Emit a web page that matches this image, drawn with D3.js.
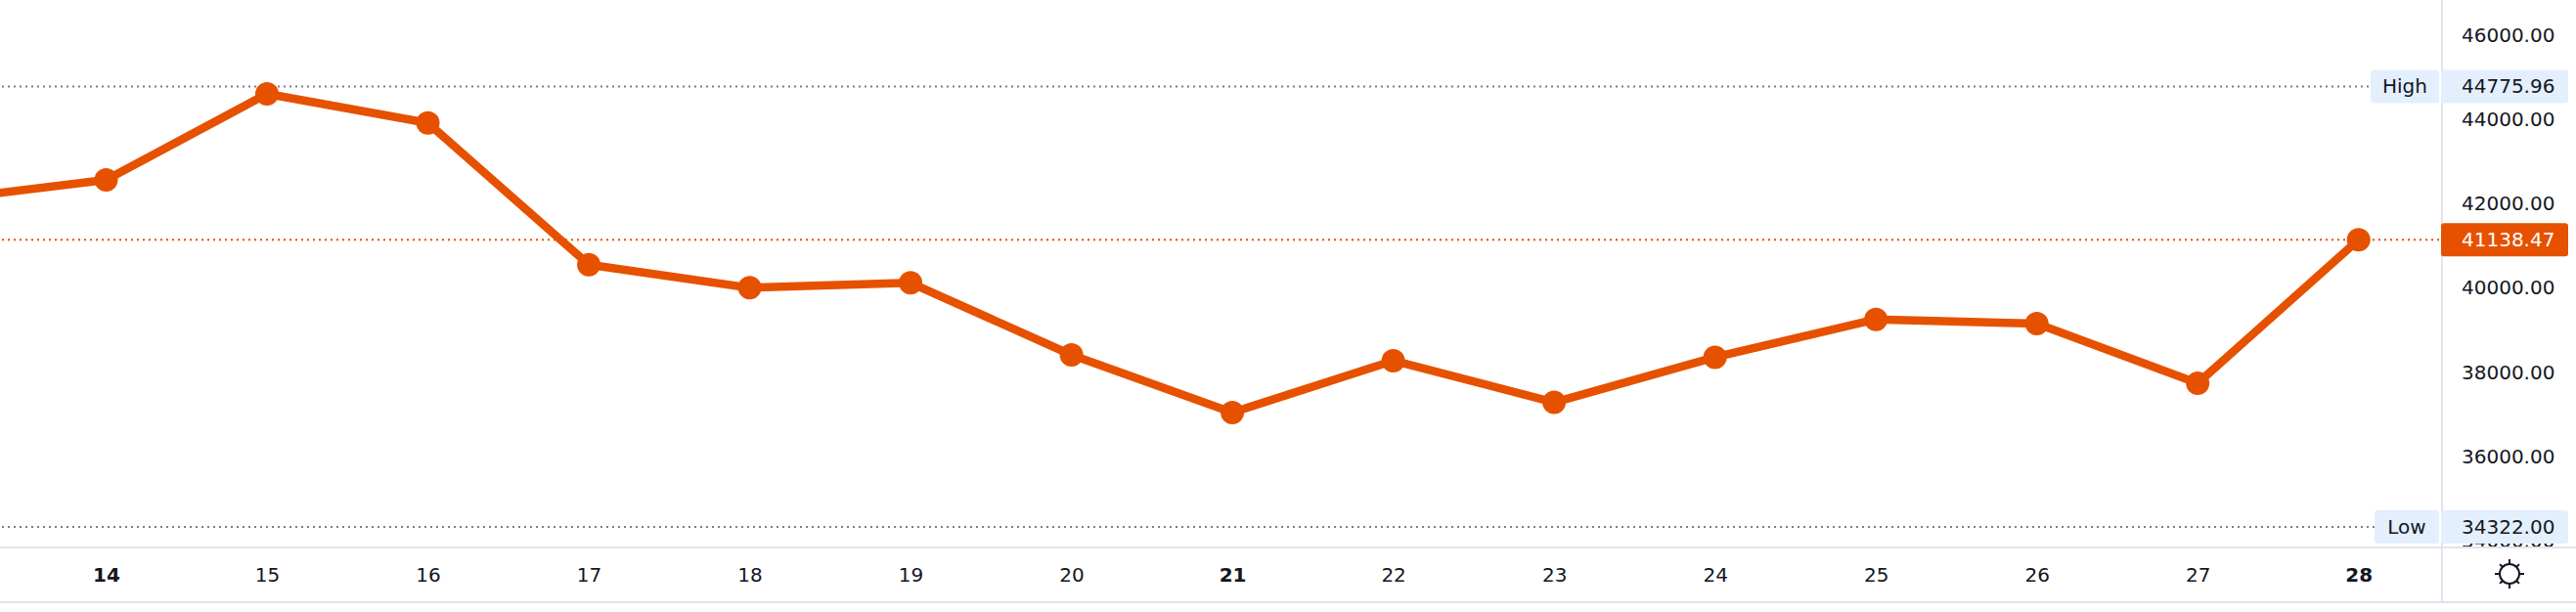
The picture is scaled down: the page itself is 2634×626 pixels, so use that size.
<!DOCTYPE html>
<html><head><meta charset="utf-8">
<script src="https://d3js.org/d3.v7.min.js"></script>
<style>html,body{margin:0;padding:0;background:#fff}svg{display:block}
text{font-family:"DejaVu Sans",sans-serif;fill:#131722;font-size:20px}</style></head><body>
<svg id="c" width="2634" height="626"></svg>
<script>
const days=[13,14,15,16,17,18,19,20,21,22,23,24,25,26,27,28];
const closes=[42095,42559,44601,43912,40548,40000,40116,38406,37037,38268,37279,38350,39248,39148,37733,41138.47];
const priceTicks=[46000,44000,42000,40000,38000,36000,34000];
const boldDays=[14,21,28];
const high=44775.96, low=34322.00, last=41138.47;
const W=2634,H=626,paneR=2497,axisY=561,bottomY=616;
const x=d3.scaleLinear().domain([14,28]).range([108.5,2411.7]);
const y=d3.scaleLinear().domain([46000,36000]).range([35.7,466.7]);
const orange="#e65100";
const svg=d3.select("#c");
svg.append("defs").append("clipPath").attr("id","priceClip").append("rect").attr("x",2497).attr("y",0).attr("width",137).attr("height",559);
const chart=svg.append("g").append("svg").attr("width",paneR).attr("height",axisY).attr("overflow","hidden");
const hline=(v,c)=>chart.append("line").attr("x1",2).attr("x2",paneR).attr("y1",y(v)).attr("y2",y(v)).attr("stroke",c).attr("stroke-width",2).attr("stroke-dasharray","2 4");
hline(high,"#7d7f85");hline(low,"#7d7f85");hline(last,orange);
const pts=days.map((d,i)=>[d,closes[i]]);
chart.append("path").datum(pts).attr("fill","none").attr("stroke",orange).attr("stroke-width",8.5).attr("stroke-linejoin","round")
 .attr("d",d3.line().x(d=>x(d[0])).y(d=>y(d[1])));
chart.selectAll("circle").data(pts).join("circle").attr("cx",d=>x(d[0])).attr("cy",d=>y(d[1])).attr("r",12).attr("fill",orange);
// price axis
const axisG=svg.append("g").attr("clip-path","url(#priceClip)").append("g").attr("transform","translate(2497,0)");
axisG.call(d3.axisRight(y).tickValues(priceTicks).tickSize(0).tickPadding(20).tickFormat(d3.format(".2f")));
axisG.select(".domain").remove();
axisG.selectAll("text").attr("dy","0.33em").style("font-size","20px").style("font-family","'DejaVu Sans',sans-serif");
// frame lines
svg.append("line").attr("x1",0).attr("x2",W).attr("y1",axisY-1).attr("y2",axisY-1).attr("stroke","#e0e3eb").attr("stroke-width",2);
svg.append("line").attr("x1",0).attr("x2",W).attr("y1",bottomY).attr("y2",bottomY).attr("stroke","#e0e3eb").attr("stroke-width",2);
svg.append("line").attr("x1",2497).attr("x2",2497).attr("y1",0).attr("y2",bottomY).attr("stroke","#e0e3eb").attr("stroke-width",2);
function tag(xl,w,v,txt,bg,fg,anchorX,anc){
 svg.append("rect").attr("x",xl).attr("y",y(v)-17).attr("width",w).attr("height",34).attr("rx",3).attr("fill",bg);
 svg.append("text").attr("x",anchorX).attr("y",y(v)).attr("dy","0.33em").attr("text-anchor",anc).style("fill",fg).text(txt);
}
const fmt=d3.format(".2f");
tag(2424,70,high,"High","#e3effd","#131722",2459,"middle");
tag(2428,66,low,"Low","#e3effd","#131722",2461,"middle");
tag(2496,130,high,fmt(high),"#e3effd","#131722",2517,"start");
tag(2496,130,low,fmt(low),"#e3effd","#131722",2517,"start");
tag(2496,130,last,fmt(last),orange,"#ffffff",2517,"start");
// time axis
const tg=svg.append("g").attr("transform",`translate(0,${axisY+20})`)
 .call(d3.axisBottom(x).tickValues(days.slice(1)).tickSize(0).tickPadding(0).tickFormat(d3.format("d")));
tg.select(".domain").remove();
tg.selectAll("text").style("font-size","20px").style("font-family","'DejaVu Sans',sans-serif").style("font-weight",d=>boldDays.includes(d)?700:400);
// sun icon
const sun=svg.append("g").attr("transform","translate(2566,587)").attr("stroke","#131722").attr("stroke-width",2).attr("fill","none");
sun.append("circle").attr("r",10);
d3.range(8).forEach(i=>{const a=i*Math.PI/4,r=i%2?14:15;sun.append("line").attr("x1",10*Math.cos(a)).attr("y1",10*Math.sin(a)).attr("x2",r*Math.cos(a)).attr("y2",r*Math.sin(a));});
</script></body></html>
